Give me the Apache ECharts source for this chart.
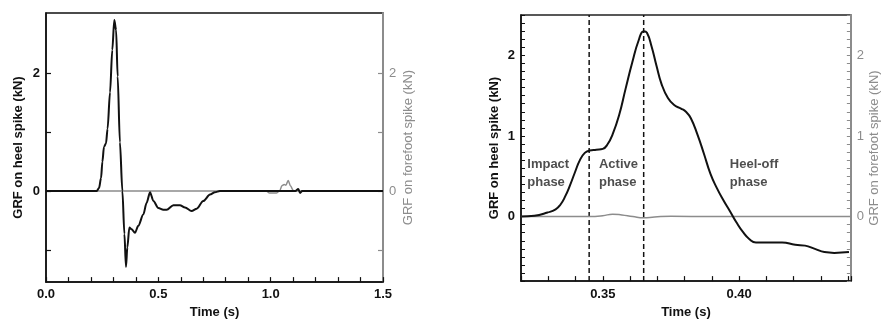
<!DOCTYPE html>
<html>
<head>
<meta charset="utf-8">
<script src="https://cdn.jsdelivr.net/npm/echarts@6/dist/echarts.min.js"></script>
<style>
html,body{margin:0;padding:0;background:#fff;}
#c{width:882px;height:324px;}
</style>
</head>
<body>
<div id="c"></div>
<script>
// ---- Left panel: full stance (0 - 1.5 s) ----
const leftTime = [0, 0.226, 0.236, 0.245, 0.251, 0.258, 0.267, 0.274, 0.285, 0.295, 0.304, 0.312, 0.319, 0.329, 0.340, 0.349, 0.356, 0.362, 0.371, 0.381, 0.396, 0.411, 0.433, 0.448, 0.463, 0.478, 0.500, 0.522, 0.537, 0.567, 0.596, 0.619, 0.648, 0.671, 0.700, 0.730, 0.752, 0.774, 1.110, 1.123, 1.131, 1.140, 1.5];
const leftHeel = [0, 0, 0.05, 0.22, 0.50, 0.75, 0.81, 1.06, 1.68, 2.40, 2.91, 2.74, 1.95, 0.83, 0, -0.73, -1.29, -0.96, -0.62, -0.65, -0.71, -0.59, -0.40, -0.20, -0.02, -0.17, -0.29, -0.32, -0.32, -0.24, -0.24, -0.28, -0.34, -0.30, -0.17, -0.06, -0.02, 0, 0, 0.035, -0.035, 0, 0];
const leftForeTime = [0, 0.980, 0.995, 1.025, 1.040, 1.050, 1.060, 1.068, 1.078, 1.088, 1.100, 1.110, 1.5];
const leftFore = [0, 0, -0.035, -0.035, 0, 0.09, 0.11, 0.10, 0.18, 0.09, 0.01, 0, 0];

// ---- Right panel: zoom on heel contact (0.32 - 0.44 s) ----
const rightTime = [0.3201, 0.3249, 0.3297, 0.3327, 0.3345, 0.3362, 0.3380, 0.3398, 0.3416, 0.3434, 0.3452, 0.3476, 0.3500, 0.3518, 0.3536, 0.3560, 0.3584, 0.3608, 0.3632, 0.3650, 0.3662, 0.3679, 0.3697, 0.3715, 0.3739, 0.3763, 0.3787, 0.3805, 0.3823, 0.3847, 0.3871, 0.3895, 0.3919, 0.3943, 0.3966, 0.3990, 0.4014, 0.4038, 0.4062, 0.4110, 0.4158, 0.4206, 0.4242, 0.4278, 0.4313, 0.4349, 0.4403];
const rightHeel = [0, 0.01, 0.05, 0.09, 0.15, 0.25, 0.39, 0.55, 0.70, 0.79, 0.82, 0.83, 0.84, 0.90, 1.02, 1.26, 1.59, 1.91, 2.19, 2.30, 2.28, 2.11, 1.87, 1.65, 1.47, 1.38, 1.34, 1.30, 1.22, 1.02, 0.78, 0.53, 0.35, 0.20, 0.07, -0.07, -0.19, -0.28, -0.32, -0.32, -0.32, -0.35, -0.36, -0.40, -0.44, -0.45, -0.44];
const rightForeTime = [0.3201, 0.3450, 0.3500, 0.3536, 0.3570, 0.3610, 0.3650, 0.3690, 0.3750, 0.3900, 0.4410];
const rightFore = [0, 0, 0.01, 0.03, 0.02, 0, -0.015, -0.005, 0.005, 0, 0];

const phaseBounds = [0.345, 0.365];
const phaseLabels = ['Impact\nphase', 'Active\nphase', 'Heel-off\nphase'];
const phaseLabelT = [0.3223, 0.3486, 0.3966];
const phaseLabelV = [0.53, 0.53, 0.53];

const leftYTicks = [-1, 0, 1, 2];
const leftYLabels = [0, 2];

const xTitle = 'Time (s)';
const heelTitle = 'GRF on heel spike (kN)';
const foreTitle = 'GRF on forefoot spike (kN)';

const LEFT_X = [0, 1.5], LEFT_Y = [-1.55, 3.03];
const RIGHT_X = [0.32, 0.441], RIGHT_Y = [-0.8, 2.5];

function zip(a, b) { return a.map((v, i) => [v, b[i]]); }

const FONT = 'Liberation Sans, Arial, sans-serif';
const GRAY = '#8c8c8c';
const BLACK = '#111';

const chart = echarts.init(document.getElementById('c'), null, {renderer: 'canvas'});

function yAxisBlack(grid, ext, extra) {
  return Object.assign({
    type: 'value', gridIndex: grid, position: 'left', min: ext[0], max: ext[1],
    name: heelTitle, nameLocation: 'middle', nameRotate: 90,
    nameTextStyle: {fontFamily: FONT, fontSize: 13, fontWeight: 'bold', color: BLACK},
    axisLine: {show: true, onZero: false, lineStyle: {color: BLACK, width: 1.5}},
    splitLine: {show: false}
  }, extra);
}
function yAxisGray(grid, ext, extra) {
  return Object.assign({
    type: 'value', gridIndex: grid, position: 'right', min: ext[0], max: ext[1],
    name: foreTitle, nameLocation: 'middle', nameRotate: 90,
    nameTextStyle: {fontFamily: FONT, fontSize: 13, color: GRAY},
    axisLine: {show: true, onZero: false, lineStyle: {color: GRAY, width: 2}},
    splitLine: {show: false}
  }, extra);
}

const phaseLineSeries = phaseBounds.map(t => ({
  type: 'line', xAxisIndex: 1, yAxisIndex: 2, showSymbol: false, silent: true, z: 1,
  data: [[t, RIGHT_Y[0]], [t, RIGHT_Y[1]]],
  lineStyle: {type: [5, 3], color: BLACK, width: 1.5}
}));

const option = {
  animation: false,
  backgroundColor: '#fff',
  grid: [
    {left: 46, right: 499, top: 13, bottom: 39, show: true, borderColor: BLACK, borderWidth: 1.5, backgroundColor: 'transparent'},
    {left: 521, right: 25, top: 15, bottom: 38, show: true, borderColor: '#222', borderWidth: 1.5, backgroundColor: 'transparent'}
  ],
  xAxis: [
    {
      type: 'value', gridIndex: 0, min: LEFT_X[0], max: LEFT_X[1], interval: 0.1,
      name: xTitle, nameLocation: 'middle', nameGap: 23,
      nameTextStyle: {fontFamily: FONT, fontSize: 13, fontWeight: 'bold', color: BLACK},
      axisLine: {onZero: false, lineStyle: {color: BLACK, width: 1.5}},
      axisTick: {inside: true, length: 5, lineStyle: {color: BLACK, width: 1.2}},
      axisLabel: {margin: 6, fontFamily: FONT, fontSize: 13, fontWeight: 'bold', color: BLACK,
        formatter: v => { const r = Math.round(v * 10); return r % 5 === 0 ? (r / 10).toFixed(1) : ''; }},
      splitLine: {show: false}
    },
    {
      type: 'value', gridIndex: 1, min: RIGHT_X[0], max: RIGHT_X[1], interval: 0.01,
      name: xTitle, nameLocation: 'middle', nameGap: 24,
      nameTextStyle: {fontFamily: FONT, fontSize: 13, fontWeight: 'bold', color: BLACK},
      axisLine: {onZero: false, lineStyle: {color: BLACK, width: 1.5}},
      axisTick: {inside: true, length: 5, lineStyle: {color: BLACK, width: 1.2}},
      axisLabel: {margin: 7, fontFamily: FONT, fontSize: 13, fontWeight: 'bold', color: BLACK,
        formatter: v => { const r = Math.round(v * 1000); return (r % 50 === 0) ? (r / 1000).toFixed(2) : ''; }},
      splitLine: {show: false}
    }
  ],
  yAxis: [
    yAxisBlack(0, LEFT_Y, {
      nameGap: 21,
      axisTick: {inside: true, length: 5, customValues: leftYTicks, lineStyle: {color: BLACK, width: 1.2}},
      axisLabel: {margin: 6, customValues: leftYLabels, fontFamily: FONT, fontSize: 13, fontWeight: 'bold', color: BLACK}
    }),
    yAxisGray(0, LEFT_Y, {
      nameGap: 19,
      axisTick: {inside: true, length: 5, customValues: leftYTicks, lineStyle: {color: GRAY, width: 1.2}},
      axisLabel: {margin: 6, customValues: leftYLabels, fontFamily: FONT, fontSize: 13, color: GRAY}
    }),
    yAxisBlack(1, RIGHT_Y, {
      interval: 0.1, nameGap: 20,
      axisTick: {inside: true, length: 4, lineStyle: {color: BLACK, width: 1}},
      axisLabel: {margin: 6, fontFamily: FONT, fontSize: 13, fontWeight: 'bold', color: BLACK,
        formatter: v => { const r = Math.round(v * 10); return r % 10 === 0 && r >= 0 ? String(r / 10) : ''; }}
    }),
    yAxisGray(1, RIGHT_Y, {
      interval: 0.1, nameGap: 16,
      axisTick: {inside: true, length: 4, lineStyle: {color: GRAY, width: 1}},
      axisLabel: {margin: 6, fontFamily: FONT, fontSize: 13, color: GRAY,
        formatter: v => { const r = Math.round(v * 10); return r % 10 === 0 && r >= 0 ? String(r / 10) : ''; }}
    })
  ],
  series: [
    {type: 'line', xAxisIndex: 0, yAxisIndex: 1, data: zip(leftForeTime, leftFore), showSymbol: false,
     smooth: 0.3, smoothMonotone: 'x', lineStyle: {color: GRAY, width: 1.5}, z: 2},
    {type: 'line', xAxisIndex: 0, yAxisIndex: 0, data: zip(leftTime, leftHeel), showSymbol: false,
     smooth: 0.3, smoothMonotone: 'x', lineStyle: {color: BLACK, width: 2}, z: 3},
    {type: 'line', xAxisIndex: 1, yAxisIndex: 3, data: zip(rightForeTime, rightFore), showSymbol: false,
     smooth: 0.5, lineStyle: {color: GRAY, width: 1.5}, z: 2},
    {type: 'line', xAxisIndex: 1, yAxisIndex: 2, data: zip(rightTime, rightHeel), showSymbol: false,
     smooth: 0.5, lineStyle: {color: BLACK, width: 2}, z: 3},
    ...phaseLineSeries,
    {type: 'scatter', xAxisIndex: 1, yAxisIndex: 2, symbolSize: 0, silent: true, z: 4,
     data: phaseLabels.map((n, i) => ({name: n, value: [phaseLabelT[i], phaseLabelV[i]]})),
     label: {show: true, position: 'right', distance: 0, formatter: p => p.name,
       fontFamily: FONT, fontSize: 13, fontWeight: 'bold', color: '#222', lineHeight: 18, align: 'left'}}
  ]
};
chart.setOption(option);
</script>
</body>
</html>
